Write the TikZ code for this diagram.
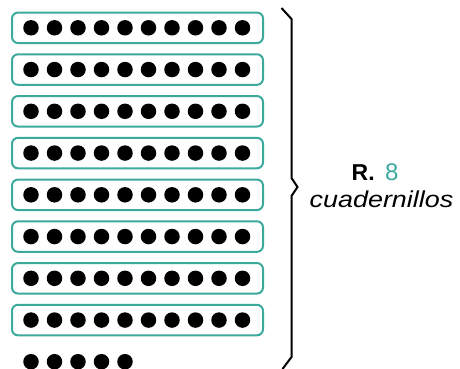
\documentclass[tikz,border=0pt]{standalone}
\usepackage{fontspec}
\setmainfont{Liberation Sans}
\definecolor{tealbox}{HTML}{3BA99C}
\begin{document}
\begin{tikzpicture}[x=1pt,y=-1pt,
  rowbox/.style={draw=tealbox,line width=2pt,rounded corners=6pt,minimum width=251pt,minimum height=30.5pt,inner sep=0pt},
  bead/.style={circle,fill=black,minimum size=15.5pt,inner sep=0pt},
  bracestyle/.style={line width=2pt,line join=miter}]
\useasboundingbox (0,0) rectangle (460,369);
\foreach \r in {0,...,7}{
  \node[rowbox] (box\r) at (137.5,{27.8+41.75*\r}) {};
  \foreach \c in {0,...,9}{
    \node[bead] (b\r-\c) at ({31+23.5*\c},{27.8+41.75*\r}) {};
  }
}
\foreach \c in {0,...,4}{
  \node[bead] (e\c) at ({31+23.5*\c},361.7) {};
}
\coordinate (t0) at (281.5,8);
\coordinate (t1) at (291.5,19);
\coordinate (m0) at (291.5,178);
\coordinate (tip) at (297.5,187);
\coordinate (m1) at (291.5,196);
\coordinate (u0) at (291.5,357);
\coordinate (u1) at (282.5,369);
\draw[bracestyle] (t0) -- (t1) -- (m0) -- (tip) -- (m1) -- (u0) -- (u1);
\node[anchor=base west,inner sep=0pt,font=\fontsize{23}{26}\selectfont\bfseries] (rlabel) at (351.5,180) {R.};
\node[anchor=base west,inner sep=0pt,font=\fontsize{24}{26}\selectfont,text=tealbox] (num) at (385,180) {8};
\node[anchor=base,inner sep=0pt,font=\fontsize{23}{26}\selectfont\itshape] (word) at (381.5,207) {\scalebox{1.17}[1]{cuadernillos}};
\end{tikzpicture}
\end{document}
